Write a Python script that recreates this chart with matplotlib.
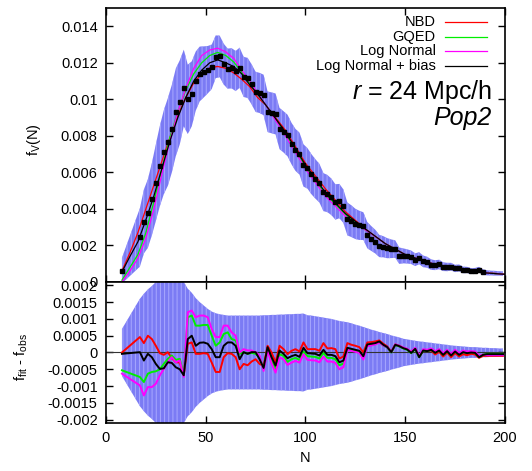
import matplotlib
matplotlib.use("Agg")
import matplotlib.pyplot as plt
import numpy as np

plt.rcParams["font.family"] = ["Liberation Sans", "DejaVu Sans"]
plt.rcParams["mathtext.fontset"] = "custom"
plt.rcParams["mathtext.rm"] = "Liberation Sans"
plt.rcParams["mathtext.it"] = "Liberation Sans:italic"
plt.rcParams["mathtext.default"] = "regular"
plt.rcParams["hatch.color"] = "#a8a8ff"
plt.rcParams["hatch.linewidth"] = 0.7

# observed counts-in-cells points (N = 8, 17, 19, ..., 189)
N_OBS = [8] + list(range(17, 190, 2))
F_OBS = [
    0.00062, 0.00244, 0.00331, 0.00375, 0.00453, 0.00544, 0.00635, 0.00711,
    0.00766, 0.00839, 0.00929, 0.00984, 0.01062, 0.01000, 0.01030, 0.01100,
    0.01139, 0.01150, 0.01162, 0.01178, 0.01233, 0.01235, 0.01193, 0.01168,
    0.01170, 0.01155, 0.01173, 0.01123, 0.01117, 0.01082, 0.01041, 0.01035,
    0.01024, 0.00932, 0.00926, 0.00920, 0.00840, 0.00822, 0.00802, 0.00758,
    0.00723, 0.00703, 0.00638, 0.00622, 0.00590, 0.00564, 0.00541, 0.00492,
    0.00484, 0.00466, 0.00438, 0.00443, 0.00415, 0.00345, 0.00333, 0.00318,
    0.00310, 0.00306, 0.00256, 0.00238, 0.00221, 0.00197, 0.00193, 0.00185,
    0.00182, 0.00180, 0.00144, 0.00143, 0.00140, 0.00135, 0.00122, 0.00130,
    0.00113, 0.00108, 0.00095, 0.00092, 0.00096, 0.00084, 0.00082, 0.00084,
    0.00074, 0.00077, 0.00066, 0.00066, 0.00060, 0.00061, 0.00068, 0.00055,
]
# band centre beyond the last plotted point (N = 191..199)
F_OBS_TAIL = [0.00050, 0.00049, 0.00048, 0.00047, 0.00046]

# grid for residuals and error band (N = 8, 17, ..., 199)
N_ALL = [8] + list(range(17, 200, 2))
SIGMA = [
    0.00070, 0.00160, 0.00175, 0.00188, 0.00198, 0.00210, 0.00220, 0.00230,
    0.00240, 0.00240, 0.00240, 0.00230, 0.00210, 0.00190, 0.00178, 0.00162,
    0.00150, 0.00140, 0.00130, 0.00122, 0.00117, 0.00114, 0.00112, 0.00110,
    0.00110, 0.00110, 0.00110, 0.00110, 0.00110, 0.00110, 0.00110, 0.00110,
    0.00111, 0.00111, 0.00112, 0.00112, 0.00113, 0.00113, 0.00114, 0.00114,
    0.00115, 0.00115, 0.00116, 0.00111, 0.00110, 0.00108, 0.00106, 0.00104,
    0.00102, 0.00100, 0.00097, 0.00094, 0.00092, 0.00090, 0.00087, 0.00083,
    0.00080, 0.00076, 0.00072, 0.00068, 0.00065, 0.00061, 0.00058, 0.00055,
    0.00051, 0.00048, 0.00045, 0.00041, 0.00039, 0.00037, 0.00035, 0.00033,
    0.00032, 0.00030, 0.00029, 0.00027, 0.00026, 0.00024, 0.00023, 0.00021,
    0.00020, 0.00019, 0.00018, 0.00017, 0.00016, 0.00016, 0.00015, 0.00014,
    0.00014, 0.00013, 0.00013, 0.00012, 0.00012,
]

# residuals f_fit - f_obs, in units of 1e-4
RES_NBD = [
    0.0, 4.6, 2.8, 5.0, 4.0, 2.0, -0.2, -0.7, 0.1, -1.7, -2.9, -3.0, -6.8,
    2.6, 3.0, -0.4, -0.4, -0.2, -0.4, -3.0, -5.8, -5.8, -1.4, -0.2, -0.4,
    -1.4, -5.0, -3.4, -3.8, -2.7, -2.0, -3.4, -4.0, 2.0, 0.0, -3.0, 2.0,
    1.0, -0.5, 0.5, 1.0, 0.3, 3.0, 1.0, 1.0, 1.0, 0.5, 2.8, 1.2, 1.3, 1.0,
    -1.8, -1.2, 2.8, 2.3, 2.0, 1.6, 0.0, 3.0, 3.1, 3.3, 3.6, 2.6, 1.8, 0.2,
    2.4, 2.0, 1.4, 1.0, 0.0, 1.2, -1.3, 0.6, 0.4, 0.6, -0.6, 0.2, -1.2, 0.0,
    -1.4, -0.2, -1.2, -0.5, -0.8, -0.4, -0.6, -1.6, -1.0, -1.0, -1.0, -1.0,
    -1.0, -1.0,
]
RES_GQED = [
    -5.3, -7.3, -8.8, -6.3, -5.8, -5.6, -5.0, -3.4, -1.9, -0.9, -2.2, -1.9,
    -6.8, 10.5, 11.0, 8.0, 8.0, 8.2, 8.2, 5.0, 2.0, 3.0, 5.5, 6.0, 4.0, 3.6,
    -0.4, 0.1, -0.4, -0.1, -0.4, -1.4, -5.0, 1.0, -2.5, -5.0, -0.5, -1.0,
    -2.8, -2.0, -1.6, -2.2, 0.3, -1.1, -1.2, -1.3, -1.8, -0.1, -1.6, -1.6,
    -2.0, -3.8, -3.3, 1.1, 0.8, 0.5, 0.2, -1.4, 2.1, 2.3, 2.5, 3.1, 2.1, 1.5,
    0.0, 2.2, 1.8, 1.2, 0.8, -0.2, 1.0, -1.4, 0.6, 0.4, 0.8, 0.0, 0.6, -0.6,
    0.4, -0.8, 0.4, -0.6, 0.2, -0.1, 0.1, 0.0, -1.3, -0.6, -0.4, -0.4, -0.4,
    -0.4, -0.4,
]
RES_LN = [
    -6.3, -9.8, -12.8, -10.3, -10.3, -9.3, -6.8, -4.9, -2.9, -1.4, -2.9,
    -2.4, -7.3, 12.0, 12.5, 10.5, 11.0, 11.0, 10.5, 7.0, 4.6, 4.6, 8.0, 8.0,
    6.0, 5.0, 0.0, 1.0, 0.6, 0.6, 0.1, -0.9, -5.5, 0.5, -3.3, -6.0, -1.5,
    -2.0, -3.7, -3.0, -2.5, -3.0, -0.5, -2.2, -2.3, -2.4, -2.9, -1.2, -2.7,
    -2.7, -3.1, -5.0, -4.4, 0.8, 0.5, 0.2, -0.1, -2.1, 1.9, 2.1, 2.4, 3.0,
    2.1, 1.6, 0.2, 2.4, 2.0, 1.5, 1.1, 0.3, 1.4, -1.0, 1.0, 0.8, 1.2, 0.4,
    1.0, -0.2, 0.8, -0.4, 0.8, -0.2, 0.6, 0.3, 0.4, 0.3, -1.0, -0.6, -0.8,
    -0.8, -0.8, -0.8, -0.8,
]
RES_LNB = [
    -0.4, 0.1, -2.4, -0.4, -1.4, -3.4, -4.9, -4.7, -2.9, -3.1, -4.4, -5.0,
    -6.8, 4.0, 5.0, 2.0, 2.9, 3.0, 2.6, 1.0, -1.4, -1.4, 2.0, 3.0, 3.0, 2.0,
    -2.0, 0.1, -0.4, 0.1, 0.1, -2.0, -4.6, 1.6, -1.4, -3.9, 0.6, -0.4, -1.7,
    -1.1, -0.7, -1.3, 1.4, -0.2, -0.3, -0.4, -0.9, 0.8, -0.7, -0.7, -1.1,
    -2.9, -2.4, 1.4, 1.1, 0.8, 0.5, -1.1, 2.4, 2.6, 2.8, 3.3, 2.3, 1.6, 0.1,
    2.3, 1.9, 1.3, 0.9, -0.1, 1.1, -1.4, 0.6, 0.4, 0.8, -0.1, 0.6, -0.7, 0.4,
    -0.9, 0.3, -0.7, 0.1, -0.2, 0.0, -0.1, -1.4, -0.7, -0.5, -0.5, -0.5,
    -0.5, -0.5,
]

# model curves in the upper panel
N_FIT = [8, 12, 16, 20, 24, 28, 32, 36, 40, 44, 48, 52, 56, 60, 64, 68, 72,
         76, 80, 90, 100, 110, 120, 130, 140, 150, 160, 170, 180, 190, 200]
FIT_NBD = [0.0006, 0.0016, 0.0027, 0.0040, 0.0053, 0.0066, 0.0079, 0.0091,
           0.0101, 0.0109, 0.0114, 0.01172, 0.0118, 0.0117, 0.01145, 0.0111,
           0.0107, 0.0101, 0.0097, 0.0083, 0.0065, 0.0051, 0.00385, 0.0029,
           0.0021, 0.0015, 0.00112, 0.0008, 0.0006, 0.00051, 0.00043]
FIT_GQED = [0.0001, 0.0008, 0.0015, 0.0027, 0.0044, 0.0062, 0.0079, 0.0093,
            0.0105, 0.0114, 0.0120, 0.0124, 0.01257, 0.0124, 0.01205, 0.0115,
            0.0109, 0.0103, 0.0097, 0.0081, 0.0063, 0.0048, 0.0037, 0.00285,
            0.0021, 0.0015, 0.00112, 0.0008, 0.0006, 0.0005, 0.00042]
FIT_LN = [0.0000, 0.0006, 0.0013, 0.0024, 0.0040, 0.0059, 0.0077, 0.0093,
          0.0106, 0.0117, 0.0124, 0.0127, 0.0128, 0.0126, 0.01225, 0.0116,
          0.0110, 0.01035, 0.0097, 0.0080, 0.0062, 0.0047, 0.0036, 0.00285,
          0.0021, 0.0015, 0.00113, 0.0008, 0.0006, 0.0005, 0.00042]
FIT_LNB = [0.00055, 0.0014, 0.0022, 0.0034, 0.0047, 0.0062, 0.0077, 0.0090,
           0.0101, 0.0110, 0.0116, 0.0120, 0.01216, 0.0120, 0.0118, 0.0114,
           0.0108, 0.0103, 0.0097, 0.0082, 0.0064, 0.0049, 0.00375, 0.0029,
           0.0021, 0.0015, 0.00112, 0.0008, 0.0006, 0.0005, 0.00042]

LABELS = ["NBD", "GQED", "Log Normal", "Log Normal + bias"]
COLORS = ["#ff0000", "#00ee00", "#ff00ff", "#000000"]
BAND_COLOR = "#7b7bf4"

TOP_YTICKS = [0, 0.002, 0.004, 0.006, 0.008, 0.01, 0.012, 0.014]
BOT_YTICKS = [-0.002, -0.0015, -0.001, -0.0005, 0, 0.0005, 0.001, 0.0015, 0.002]
XTICKS = [0, 50, 100, 150, 200]


def style_axes(ax, yticks):
    ax.set_xlim(0, 200)
    ax.set_xticks(XTICKS)
    ax.set_yticks(yticks)
    ax.set_yticklabels([f"{v:g}" for v in yticks])
    ax.tick_params(direction="in", length=5, width=1, top=True, right=True,
                   labelsize=10.5, pad=6)
    for s in ax.spines.values():
        s.set_linewidth(1.2)


fig = plt.figure(figsize=(5.32, 4.71), dpi=100)
ax1 = fig.add_axes([0.1992, 0.4013, 0.75, 0.5817])
ax2 = fig.add_axes([0.1992, 0.1019, 0.75, 0.2994])

n_all = np.array(N_ALL)
sig = np.array(SIGMA)
centre = np.array(F_OBS + F_OBS_TAIL)

# upper panel
ax1.fill_between(n_all, centre - sig, centre + sig, facecolor=BAND_COLOR,
                 edgecolor="#a8a8ff", linewidth=0, hatch="||||", zorder=1)
for fit, c in zip([FIT_NBD, FIT_GQED, FIT_LN, FIT_LNB], COLORS):
    ax1.plot(N_FIT, fit, color=c, lw=0.9, zorder=2)
ax1.plot(N_OBS, F_OBS, "s", color="black", ms=3, zorder=3)
style_axes(ax1, TOP_YTICKS)
ax1.set_ylim(0, 0.015)
ax1.tick_params(labelbottom=False)
ax1.set_ylabel("f$_V$(N)", fontsize=10.5)
ax1.yaxis.set_label_coords(-0.158, 0.518)

# hand-made legend, text right-justified like gnuplot
for i, (lab, c) in enumerate(zip(LABELS, COLORS)):
    y = 0.949 - i * 0.0533
    ax1.text(0.826, y, lab, transform=ax1.transAxes, ha="right", va="center",
             fontsize=10.5)
    ax1.plot([0.85, 0.955], [y, y], transform=ax1.transAxes, color=c, lw=0.9)

ax1.text(0.967, 0.695, "$\\it{r}$ = 24 Mpc/h", transform=ax1.transAxes,
         ha="right", va="center", fontsize=18)
ax1.text(0.967, 0.599, "Pop2", transform=ax1.transAxes, ha="right",
         va="center", fontsize=18, style="italic")

# lower panel
ax2.fill_between(n_all, -sig, sig, facecolor=BAND_COLOR, edgecolor="#a8a8ff",
                 linewidth=0, hatch="||||", zorder=1)
ax2.axhline(0, color="#333333", lw=0.8, zorder=2)
for res, c in zip([RES_NBD, RES_GQED, RES_LN, RES_LNB], COLORS):
    ax2.plot(n_all, np.array(res) * 1e-4, color=c, lw=1.4, zorder=3)
style_axes(ax2, BOT_YTICKS)
ax2.set_ylim(-0.0021, 0.0021)
ax2.set_xticklabels([str(v) for v in XTICKS])
ax2.set_ylabel("f$_{fit}$ - f$_{obs}$", fontsize=10.5)
ax2.yaxis.set_label_coords(-0.19, 0.47)
ax2.set_xlabel("N", fontsize=10.5)
ax2.xaxis.set_label_coords(0.5, -0.2)

fig.savefig("out.png", dpi=100)
